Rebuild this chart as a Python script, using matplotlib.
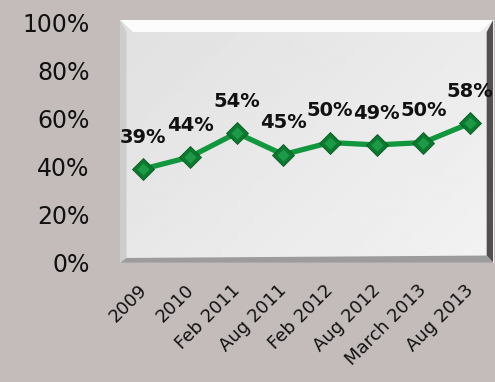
import numpy as np
import matplotlib.pyplot as plt
from matplotlib.patches import Polygon
from matplotlib.transforms import ScaledTranslation

# --- DATA ---
periods = ["2009", "2010", "Feb 2011", "Aug 2011", "Feb 2012",
           "Aug 2012", "March 2013", "Aug 2013"]
shares = [39, 44, 54, 45, 50, 49, 50, 58]
y_ticks = [0, 20, 40, 60, 80, 100]

LINE_GREEN = "#12973f"
MARKER_GREEN = "#0b7a2f"
BG = "#c3bcbb"

fig = plt.figure(figsize=(4.95, 3.82), dpi=100)
fig.patch.set_facecolor(BG)
ax = fig.add_axes([0.2424, 0.312, 0.754, 0.636])

x = np.arange(len(periods))
ax.set_xlim(-0.5, len(periods) - 0.5)
ax.set_ylim(0, 101)

# light gradient panel with a bevelled frame
grad = np.linspace(0, 1, 256)
gx, gy = np.meshgrid(grad, grad)
panel = 0.88 + 0.07 * (0.6 * gx + 0.4 * gy)
ax.imshow(panel, cmap="gray", vmin=0, vmax=1, extent=[0, 1, 0, 1],
          transform=ax.transAxes, aspect="auto", zorder=0, origin="upper")
bev = 0.035
bevy = 0.05
ax.add_patch(Polygon([(0, 1), (1, 1), (1 - bev, 1 - bevy), (bev, 1 - bevy)],
                     transform=ax.transAxes, color="#fcfcfc", zorder=1, lw=0))
ax.add_patch(Polygon([(0, 0), (0, 1), (bev * 0.5, 1 - bevy), (bev * 0.5, bevy * 0.4)],
                     transform=ax.transAxes, color="#cdcdcd", zorder=1, lw=0))
ax.add_patch(Polygon([(1, 0), (1, 1), (1 - bev * 0.5, 1 - bevy), (1 - bev * 0.5, bevy * 0.6)],
                     transform=ax.transAxes, color="#505050", zorder=1, lw=0))
ax.add_patch(Polygon([(0, 0), (1, 0), (1 - bev * 0.5, bevy * 0.6), (bev * 0.5, bevy * 0.4)],
                     transform=ax.transAxes, color="#9c9c9c", zorder=1, lw=0))

ax.plot(x, shares, color=LINE_GREEN, lw=3.8, zorder=3, solid_capstyle="round")
ax.plot(x, shares, ls="none", marker="D", ms=11.5, mfc=MARKER_GREEN,
        mec="#0a5a24", mew=0.6, zorder=4)
ax.plot(x, shares, ls="none", marker="D", ms=6, mfc="#1c9a48",
        mec="none", zorder=5)

for xi, v in zip(x, shares):
    ax.annotate(f"{v}%", (xi, v), xytext=(0, 16), textcoords="offset points",
                ha="center", va="bottom", fontsize=14, fontweight="bold",
                color="#111111", zorder=6, annotation_clip=False)

ax.set_yticks(y_ticks)
ax.set_yticklabels([f"{t}%" for t in y_ticks], fontsize=17,
                   color="#111111")
ax.set_xticks(x)
ax.set_xticklabels(periods, rotation=45, ha="right", rotation_mode="anchor",
                   fontsize=13, color="#111111")
ax.tick_params(axis="both", length=0)
ax.tick_params(axis="y", pad=22)
ax.tick_params(axis="x", pad=13)
shift = ScaledTranslation(-4 / 72, 0, fig.dpi_scale_trans)
for lbl in ax.get_xticklabels():
    lbl.set_transform(lbl.get_transform() + shift)
for s in ax.spines.values():
    s.set_visible(False)

fig.savefig("out.png", dpi=100, facecolor=BG)
